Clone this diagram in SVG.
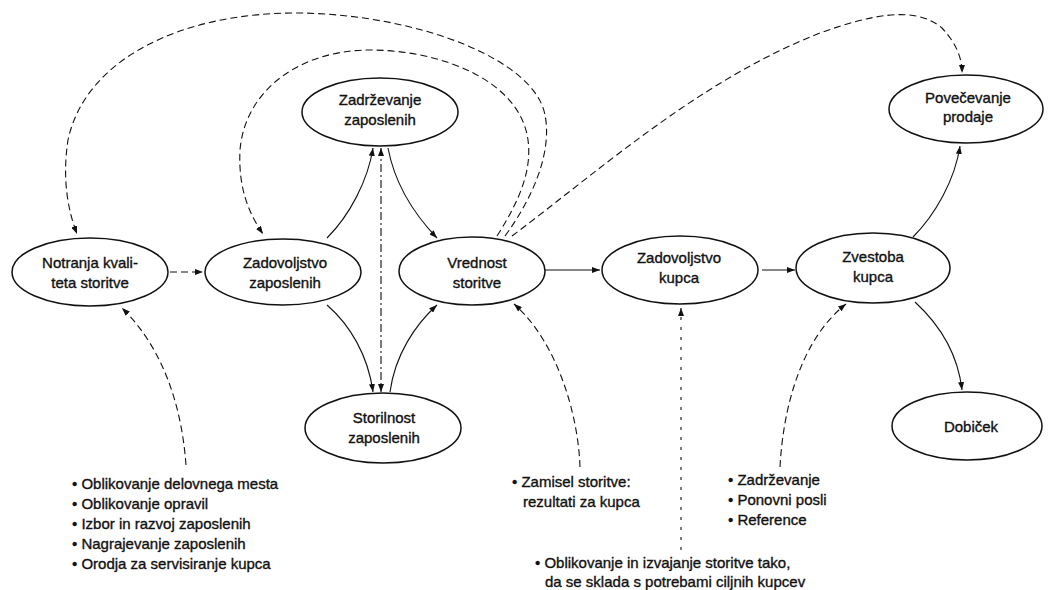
<svg xmlns="http://www.w3.org/2000/svg" width="1053" height="590" viewBox="0 0 1053 590">
<style>
.node ellipse{fill:#fff;stroke:#111;stroke-width:1.5}
.node text,.list text{font-family:"Liberation Sans",Arial,sans-serif;font-size:15px;fill:#111;stroke:#111;stroke-width:0.35}
.node text{text-anchor:middle}
.c{fill:none;stroke:#111;stroke-width:1.1}
.d{stroke-dasharray:7 4}
.dd{stroke-dasharray:8 3 2 3}
.dt{stroke-dasharray:3 7}
</style>
<defs>
<marker id="a" markerUnits="userSpaceOnUse" markerWidth="8" markerHeight="6" refX="8" refY="3" orient="auto-start-reverse">
<path d="M0,0 L8,3 L0,6 z" fill="#111"/>
</marker>
</defs>
<rect width="1053" height="590" fill="#fff"/>
<g id="connectors">
<path class="c d" d="M 505 236 C 535 195, 552 150, 545 115 C 535 60, 420 15, 300 13 C 180 12, 85 60, 68 140 C 62 180, 68 210, 77 234" marker-end="url(#a)"/>
<path class="c d" d="M 497 236 C 520 200, 532 170, 528 140 C 520 80, 440 50, 370 50 C 300 50, 245 90, 240 150 C 238 190, 250 215, 263 234" marker-end="url(#a)"/>
<path class="c d" d="M 512 236 C 600 170, 700 80, 820 33 C 870 15, 915 5, 942 28 C 958 45, 962 60, 962 73" marker-end="url(#a)"/>
<path class="c d" d="M 170 272 L 203 272" marker-end="url(#a)"/>
<path class="c" d="M 327 238 C 350 215, 368 180, 373 148" marker-end="url(#a)"/>
<path class="c" d="M 388 148 C 395 185, 415 215, 437 238" marker-end="url(#a)"/>
<path class="c" d="M 327 305 C 350 325, 368 355, 373 392" marker-end="url(#a)"/>
<path class="c" d="M 390 392 C 395 355, 415 325, 437 305" marker-end="url(#a)"/>
<path class="c dd" d="M 381 148 L 381 392" marker-start="url(#a)" marker-end="url(#a)"/>
<path class="c" stroke-width="2" d="M 545 270 L 600 270" marker-end="url(#a)"/>
<path class="c" d="M 762 270 L 795 270" marker-end="url(#a)"/>
<path class="c" d="M 913 237 C 935 215, 955 180, 960 146" marker-end="url(#a)"/>
<path class="c" d="M 915 302 C 940 325, 958 355, 962 390" marker-end="url(#a)"/>
<path class="c d" d="M 186 465 C 182 410, 165 350, 122 308" marker-end="url(#a)"/>
<path class="c d" d="M 580 467 C 578 410, 555 340, 514 304" marker-end="url(#a)"/>
<path class="c dt" d="M 681 550 L 681 308" marker-end="url(#a)"/>
<path class="c d" d="M 780 467 C 783 410, 800 340, 846 304" marker-end="url(#a)"/>
</g>
<g id="n-notranja" class="node"><ellipse cx="90" cy="272" rx="78" ry="34"/><text x="90" y="268">Notranja kvali-</text><text x="90" y="288">teta storitve</text></g>
<g id="n-zadzap" class="node"><ellipse cx="283" cy="272" rx="78" ry="33"/><text x="285" y="268">Zadovoljstvo</text><text x="285" y="288">zaposlenih</text></g>
<g id="n-zadrz" class="node"><ellipse cx="380" cy="112" rx="78" ry="34"/><text x="380" y="105">Zadrževanje</text><text x="380" y="125">zaposlenih</text></g>
<g id="n-vrednost" class="node"><ellipse cx="472" cy="271" rx="73" ry="34"/><text x="477" y="268">Vrednost</text><text x="477" y="288">storitve</text></g>
<g id="n-storil" class="node"><ellipse cx="383" cy="428" rx="78" ry="35"/><text x="384" y="423">Storilnost</text><text x="384" y="443">zaposlenih</text></g>
<g id="n-zadkup" class="node"><ellipse cx="680" cy="270" rx="78" ry="34"/><text x="679" y="263">Zadovoljstvo</text><text x="679" y="283">kupca</text></g>
<g id="n-zvest" class="node"><ellipse cx="873" cy="268" rx="77" ry="35"/><text x="873" y="262">Zvestoba</text><text x="873" y="282">kupca</text></g>
<g id="n-povec" class="node"><ellipse cx="966" cy="109" rx="77" ry="34"/><text x="968" y="103">Povečevanje</text><text x="968" y="122">prodaje</text></g>
<g id="n-dob" class="node"><ellipse cx="967" cy="426" rx="75" ry="34"/><text x="971" y="432">Dobiček</text></g>
<g id="l-1" class="list">
<text x="72" y="489">• Oblikovanje delovnega mesta</text>
<text x="72" y="509">• Oblikovanje opravil</text>
<text x="72" y="529">• Izbor in razvoj zaposlenih</text>
<text x="72" y="549">• Nagrajevanje zaposlenih</text>
<text x="72" y="569">• Orodja za servisiranje kupca</text>
</g>
<g id="l-2" class="list">
<text x="512" y="487">• Zamisel storitve:</text>
<text x="523" y="507">rezultati za kupca</text>
</g>
<g id="l-3" class="list">
<text x="728" y="485">• Zadrževanje</text>
<text x="728" y="505">• Ponovni posli</text>
<text x="728" y="525">• Reference</text>
</g>
<g id="l-4" class="list">
<text x="535" y="568">• Oblikovanje in izvajanje storitve tako,</text>
<text x="545" y="587">da se sklada s potrebami ciljnih kupcev</text>
</g>
</svg>
